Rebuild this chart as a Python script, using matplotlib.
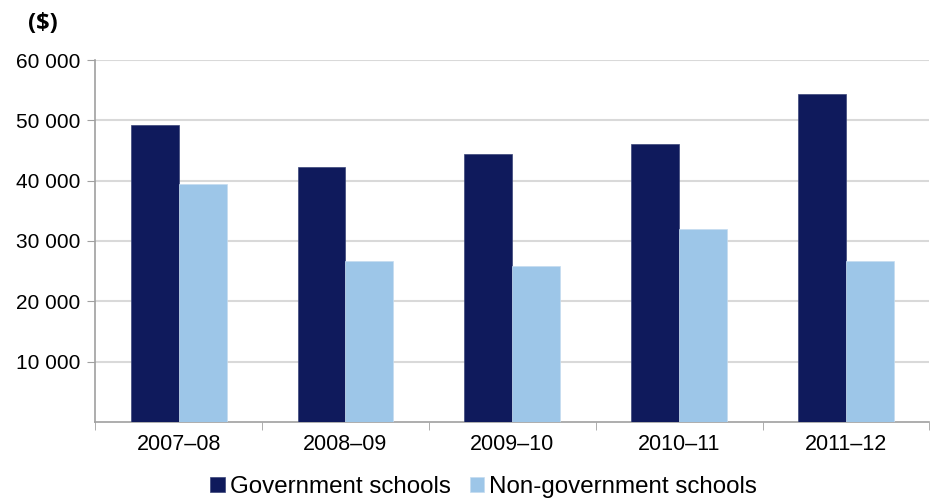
import numpy as np
import matplotlib.pyplot as plt
from matplotlib.ticker import FuncFormatter

plt.rcParams['font.family'] = ['Liberation Sans', 'DejaVu Sans']

years = ['2007–08', '2008–09', '2009–10', '2010–11', '2011–12']
government = [49200, 42300, 44400, 46150, 54300]
non_government = [39450, 26650, 25900, 32000, 26650]

fig = plt.figure(figsize=(9.34, 5.0), dpi=100)
ax = fig.add_axes([0.102, 0.156, 0.893, 0.724])

x = np.arange(len(years))
w = 0.287
ax.bar(x - w / 2, government, w, color='#0F1A5C', edgecolor='#3a4578', linewidth=0.5,
       label='Government schools', zorder=3)
ax.bar(x + w / 2, non_government, w, color='#9DC6E8', edgecolor='#c5dcf0', linewidth=0.5,
       label='Non-government schools', zorder=3)

ax.set_xlim(-0.5, len(years) - 0.5)
ax.set_ylim(0, 60000)
ax.set_yticks(range(10000, 60001, 10000))
ax.yaxis.set_major_formatter(FuncFormatter(lambda v, p: f'{int(v):,}'.replace(',', ' ')))
ax.grid(axis='y', color='#D9D9D9', linewidth=1.5, zorder=0)

ax.set_xticks(x)
ax.set_xticklabels(years)
ax.set_xticks(np.arange(-0.5, len(years)), minor=True)
ax.tick_params(axis='x', which='major', length=0, pad=9, labelsize=15.5)
ax.tick_params(axis='x', which='minor', length=6, color='#A0A0A0', direction='out')
ax.tick_params(axis='y', length=6, color='#A0A0A0', labelsize=15, pad=5)

for s in ['top', 'right']:
    ax.spines[s].set_visible(False)
ax.spines['left'].set_color('#A0A0A0')
ax.spines['bottom'].set_color('#A0A0A0')
ax.spines['left'].set_linewidth(1.2)
ax.spines['bottom'].set_linewidth(1.2)

fig.text(0.046, 0.952, '($)', fontsize=17, fontweight='bold', ha='center', va='center',
         family=['Open Sans', 'DejaVu Sans'])

fig.legend(loc='center', bbox_to_anchor=(0.518, 0.026), ncol=2, frameon=False,
           fontsize=17.4, handlelength=0.6, handleheight=0.6, handletextpad=0.2,
           columnspacing=0.8)

fig.savefig('out.png', dpi=100)
